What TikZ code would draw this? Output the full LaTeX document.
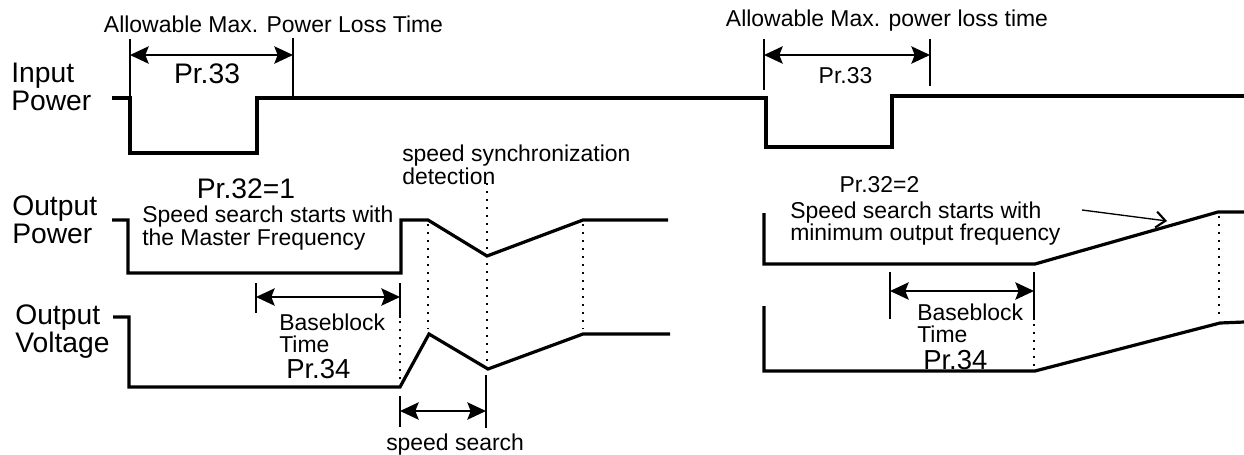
\documentclass[tikz,border=0pt]{standalone}
\usepackage{fontspec}
\setmainfont{Liberation Sans}
\usetikzlibrary{arrows.meta}
\begin{document}
\begin{tikzpicture}[x=0.75pt,y=-0.75pt,
  wave/.style={line width=2.4pt, line join=miter},
  ext/.style={line width=0.8pt},
  dim/.style={line width=1.4pt, {Stealth[length=14pt,width=13pt,inset=2.5pt]}-{Stealth[length=14pt,width=13pt,inset=2.5pt]}},
  dots/.style={line width=1.6pt, dash pattern=on 1.6pt off 4.4pt},
  big/.style={font=\fontsize{21.2}{25}\selectfont, inner sep=0pt},
  prt/.style={font=\fontsize{20.6}{24}\selectfont, inner sep=0pt},
  txt/.style={font=\fontsize{17.2}{20}\selectfont, inner sep=0pt},
  pointer/.style={line width=1pt, -{Straight Barb[length=7pt,width=12pt,line width=1.6pt]}}
]
\useasboundingbox (0,0) rectangle (1244,454);

% ---------------- labels ----------------
\node[big, anchor=base west] (inp1) at (11,82) {Input};
\node[big, anchor=base west] (inp2) at (11,110) {Power};
\node[big, anchor=base west] (op1) at (12,215) {Output};
\node[big, anchor=base west] (op2) at (12,243) {Power};
\node[big, anchor=base west] (ov1) at (15,324) {Output};
\node[big, anchor=base west] (ov2) at (15,352) {Voltage};

\node[txt, anchor=base] (amlt1) at (273.5,32) {Allowable Max. Power Loss Time};
\node[txt, anchor=base] (amlt2) at (887,26) {Allowable Max. power loss time};
\node[big, anchor=base] (pr33a) at (207,83) {Pr.33};
\node[txt, anchor=base] (pr33b) at (845.5,83) {Pr.33};

\node[big, anchor=base] (pr321) at (246,198) {Pr.32=1};
\node[txt, anchor=base west] (ss1a) at (142,222) {Speed search starts with};
\node[txt, anchor=base west] (ss1b) at (142,245) {the Master Frequency};
\node[txt, anchor=base west] (sync1) at (402,161) {speed synchronization};
\node[txt, anchor=base west] (sync2) at (402,184) {detection};
\node[txt, anchor=base west] (bb1) at (279,330) {Baseblock};
\node[txt, anchor=base west] (tm1) at (279,352) {Time};
\node[prt, anchor=base west] (pr34a) at (286,378) {Pr.34};
\node[txt, anchor=base west] (srch) at (386,450) {speed search};

\node[txt, anchor=base] (pr322) at (879.5,192) {Pr.32=2};
\node[txt, anchor=base west] (ss2a) at (790,218) {Speed search starts with};
\node[txt, anchor=base west] (ss2b) at (790,240) {minimum output frequency};
\node[txt, anchor=base west] (bb2) at (917,320) {Baseblock};
\node[txt, anchor=base west] (tm2) at (917,342) {Time};
\node[prt, anchor=base west] (pr34b) at (923,369) {Pr.34};

% ---------------- waveforms ----------------
% input power
\draw[wave] (112,98) -- (130,98) -- (130,153) -- (257,153) -- (257,98) -- (766,98)
  -- (766,147) -- (892,147) -- (892,96) -- (1244,96);
% output power (left)
\draw[wave] (112,220) -- (128,220) -- (128,273) -- (401,273) -- (401,220) -- (428,220)
  -- (487,256) -- (583,220) -- (668,220);
% output voltage (left)
\draw[wave] (113,317) -- (129,317) -- (129,387) -- (400,387) -- (429,334)
  -- (488,369) -- (583,334) -- (670,334);
% output power (right)
\draw[wave] (764,213) -- (764,264) -- (1035,264) -- (1218,212) -- (1244,212);
% output voltage (right)
\draw[wave] (764,306) -- (764,371) -- (1035,371) -- (1220,323) -- (1244,322);

% ---------------- dimension lines ----------------
% Pr.33 left
\coordinate (a1) at (130,55); \coordinate (a2) at (293,55);
\draw[ext] (130,39) -- (130,98);
\draw[ext] (293,38) -- (293,98);
\draw[dim] (a1) -- (a2);
% Pr.33 right
\coordinate (b1) at (764,55); \coordinate (b2) at (930,55);
\draw[ext] (764,39) -- (764,90);
\draw[ext] (930,39) -- (930,86);
\draw[dim] (b1) -- (b2);
% Baseblock left
\coordinate (c1) at (256,297); \coordinate (c2) at (400,297);
\draw[ext] (256,283) -- (256,313);
\draw[ext] (400,283) -- (400,318);
\draw[dim] (c1) -- (c2);
% Baseblock right
\coordinate (d1) at (890,291); \coordinate (d2) at (1034,291);
\draw[ext] (890,272) -- (890,319);
\draw[ext] (1034,272) -- (1034,320);
\draw[dim] (d1) -- (d2);
% speed search
\coordinate (e1) at (400,411); \coordinate (e2) at (486,411);
\draw[ext] (400,396) -- (400,427);
\draw[ext] (486,375) -- (486,428);
\draw[dim] (e1) -- (e2);

% ---------------- dotted lines ----------------
\draw[dots] (400,321) -- (400,385);
\draw[dots] (428,224) -- (428,329);
\draw[dots] (487,183) -- (487,368);
\draw[dots] (583,224) -- (583,329);
\draw[dots] (1034,324) -- (1034,368);
\draw[dots] (1219,216) -- (1219,318);

% pointer arrow
\coordinate (p1) at (1082,210); \coordinate (p2) at (1167,221);
\draw[pointer] (p1) -- (p2);
\end{tikzpicture}
\end{document}
